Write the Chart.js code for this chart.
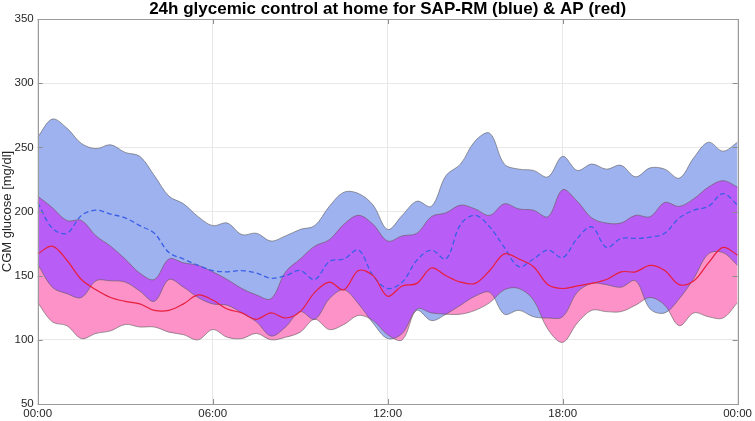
<!DOCTYPE html>
<html>
<head>
<meta charset="utf-8">
<script src="https://cdn.jsdelivr.net/npm/chart.js@4/dist/chart.umd.min.js"></script>
<style>
  html, body { margin: 0; padding: 0; background: #fff; }
  #wrap { width: 755px; height: 421px; }
</style>
</head>
<body>
<div id="wrap"><canvas id="glucoseChart" width="755" height="421"></canvas></div>
<script>
// time of day in hours
const hours = [0, 0.5, 1, 1.5, 2, 2.5, 3, 3.5, 4, 4.5, 5, 5.5, 6, 6.5, 7, 7.5, 8, 8.5, 9, 9.5,
    10, 10.5, 11, 11.5, 12, 12.5, 13, 13.5, 14, 14.5, 15, 15.5, 16, 16.5, 17, 17.5, 18, 18.5, 19, 19.5,
    20, 20.5, 21, 21.5, 22, 22.5, 23, 23.5, 24];

const xTickLabels = ["00:00", "06:00", "12:00", "18:00", "00:00"];

// SAP-RM (blue) band and median
const sapUpper = [258, 272, 265, 253, 249, 252, 246, 243, 228, 212, 206, 196, 189, 191, 182, 183, 177, 181, 186, 189,
    204, 215, 214, 205, 186, 197, 208, 204, 228, 237, 255, 261, 237, 233, 232, 227, 243, 232, 237, 233,
    236, 227, 234, 233, 226, 242, 254, 247, 254];
const sapLower = [159, 141, 136, 133, 146, 146, 145, 138, 130, 147, 141, 133, 128, 127, 121, 114, 103, 110, 122, 116,
    132, 139, 128, 113, 101, 105, 123, 115, 120, 127, 134, 137, 120, 123, 118, 117, 118, 137, 144, 143,
    141, 146, 124, 121, 132, 148, 167, 168, 158];
const sapMedian = [207, 187, 183, 197, 201, 198, 195, 189, 183, 168, 163, 158, 154, 153, 154, 152, 148, 150, 154, 147,
    161, 163, 170, 150, 140, 145, 162, 170, 163, 190, 197, 188, 172, 157, 163, 170, 164, 179, 188, 172,
    179, 179, 180, 183, 195, 201, 204, 214, 205];

// AP (red) band and median
const apUpper = [212, 203, 193, 193, 181, 173, 163, 152, 147, 163, 160, 158, 153, 147, 140, 135, 132, 153, 163, 173,
    178, 190, 197, 190, 177, 181, 183, 196, 199, 205, 202, 197, 206, 202, 201, 196, 217, 208, 195, 191,
    191, 197, 196, 207, 204, 210, 219, 224, 219];
const apLower = [129, 114, 111, 101, 105, 107, 112, 110, 110, 106, 104, 100, 108, 102, 101, 105, 100, 102, 106, 116,
    108, 112, 119, 115, 104, 100, 124, 121, 120, 120, 123, 129, 139, 140, 131, 108, 98, 113, 123, 122,
    122, 127, 133, 127, 111, 121, 118, 117, 129];
const apMedian = [167, 173, 162, 147, 139, 133, 130, 128, 123, 123, 128, 135, 131, 124, 121, 116, 121, 117, 122, 137,
    145, 139, 154, 150, 134, 142, 144, 156, 150, 145, 144, 154, 167, 163, 157, 143, 140, 142, 144, 147,
    153, 153, 158, 154, 143, 146, 160, 172, 166];

const blueFill = "rgb(158,178,240)";
const pinkFill = "rgb(252,146,200)";
const purpleFill = "rgb(184,94,246)";
const edgeColor = "rgba(90,90,90,0.75)";

const pts = (arr)=> hours.map((h, i)=> ({x: h, y: arr[i]}));

const lineBase = {
    pointRadius: 0,
    pointHoverRadius: 0,
    tension: 0.35,
    fill: false
};

// trace the smoothed band outline using the control points chart.js computed
const bandPath = (ctx, top, bottom)=> {
    const a = top.data, b = bottom.data;
    ctx.moveTo(a[0].x, a[0].y);
    for(let i = 1; i < a.length; i++)
        ctx.bezierCurveTo(a[i-1].cp2x, a[i-1].cp2y, a[i].cp1x, a[i].cp1y, a[i].x, a[i].y);

    const n = b.length - 1;
    ctx.lineTo(b[n].x, b[n].y);
    for(let i = n - 1; i >= 0; i--)
        ctx.bezierCurveTo(b[i+1].cp1x, b[i+1].cp1y, b[i].cp2x, b[i].cp2y, b[i].x, b[i].y);
    ctx.closePath();
};

const overlapPlugin = {
    id: "overlap",
    beforeDatasetDraw(chart, args) {
        if(args.index !== 5)
            return;

        const ctx = chart.ctx, area = chart.chartArea;
        ctx.save();
        ctx.beginPath();
        ctx.rect(area.left, area.top, area.right - area.left, area.bottom - area.top);
        ctx.clip();
        ctx.beginPath();
        bandPath(ctx, chart.getDatasetMeta(8), chart.getDatasetMeta(9));
        ctx.clip();
        ctx.beginPath();
        bandPath(ctx, chart.getDatasetMeta(6), chart.getDatasetMeta(7));
        ctx.fillStyle = purpleFill;
        ctx.fill();
        ctx.restore();
    },
    afterDatasetsDraw(chart) {
        const ctx = chart.ctx, a = chart.chartArea;
        const xs = chart.scales.x, ys = chart.scales.y;
        ctx.save();
        ctx.strokeStyle = "#8c8c8c";
        ctx.lineWidth = 1;
        ctx.beginPath();
        for(const t of xs.ticks) {
            const px = Math.round(xs.getPixelForValue(t.value)) + 0.5;
            ctx.moveTo(px, a.bottom); ctx.lineTo(px, a.bottom - 5);
            ctx.moveTo(px, a.top); ctx.lineTo(px, a.top + 5);
        }
        for(const t of ys.ticks) {
            const py = Math.round(ys.getPixelForValue(t.value)) + 0.5;
            ctx.moveTo(a.left, py); ctx.lineTo(a.left + 5, py);
            ctx.moveTo(a.right, py); ctx.lineTo(a.right - 5, py);
        }
        ctx.stroke();
        ctx.strokeStyle = "#9a9a9a";
        ctx.strokeRect(Math.round(a.left) + 0.5, Math.round(a.top) + 0.5,
            Math.round(a.right - a.left), Math.round(a.bottom - a.top));
        ctx.restore();
    }
};

Chart.defaults.font.family = "'Liberation Sans', Arial, sans-serif";
Chart.defaults.color = "#262626";

const chart = new Chart(document.getElementById("glucoseChart"), {
    type: "line",
    data: {
        datasets: [
            {...lineBase, label: "AP median", data: pts(apMedian), borderColor: "#e81e3c", borderWidth: 1.2},
            {...lineBase, label: "SAP-RM median", data: pts(sapMedian), borderColor: "#3a5fe6", borderWidth: 1.3, borderDash: [5, 3]},
            {...lineBase, label: "AP lower edge", data: pts(apLower), borderColor: edgeColor, borderWidth: 0.8},
            {...lineBase, label: "AP upper edge", data: pts(apUpper), borderColor: edgeColor, borderWidth: 0.8},
            {...lineBase, label: "SAP-RM lower edge", data: pts(sapLower), borderColor: edgeColor, borderWidth: 0.8},
            {...lineBase, label: "SAP-RM upper edge", data: pts(sapUpper), borderColor: edgeColor, borderWidth: 0.8},
            {...lineBase, label: "AP band", data: pts(apUpper), borderWidth: 0, fill: "+1", backgroundColor: pinkFill},
            {...lineBase, label: "AP band low", data: pts(apLower), borderWidth: 0},
            {...lineBase, label: "SAP-RM band", data: pts(sapUpper), borderWidth: 0, fill: "+1", backgroundColor: blueFill},
            {...lineBase, label: "SAP-RM band low", data: pts(sapLower), borderWidth: 0}
        ]
    },
    options: {
        responsive: false,
        animation: false,
        devicePixelRatio: 1,
        layout: {padding: {left: 0, right: 15, top: 0, bottom: 0}},
        plugins: {
            legend: {display: false},
            tooltip: {enabled: false},
            title: {
                display: true,
                fullSize: false,
                text: "24h glycemic control at home for SAP-RM (blue) & AP (red)",
                color: "#000",
                font: {size: 17, weight: "bold", lineHeight: 1.0},
                padding: {top: 1, bottom: 1}
            }
        },
        scales: {
            x: {
                type: "linear",
                min: 0,
                max: 24,
                afterFit: (scale)=> { scale.height = 17; },
                ticks: {
                    stepSize: 6,
                    padding: 3,
                    maxRotation: 0,
                    font: {size: 11.5},
                    callback: (v)=> xTickLabels[v / 6]
                },
                grid: {color: "#e8e8e8", drawTicks: false},
                border: {display: false}
            },
            y: {
                min: 50,
                max: 350,
                afterFit: (scale)=> { scale.width = 37.7; },
                ticks: {stepSize: 50, padding: 4, font: {size: 11.5}},
                grid: {color: "#e8e8e8", drawTicks: false},
                border: {display: false},
                title: {
                    display: true,
                    text: "CGM glucose [mg/dl]",
                    font: {size: 13},
                    padding: {top: 0, bottom: 0}
                }
            }
        }
    },
    plugins: [overlapPlugin]
});
</script>
</body>
</html>
